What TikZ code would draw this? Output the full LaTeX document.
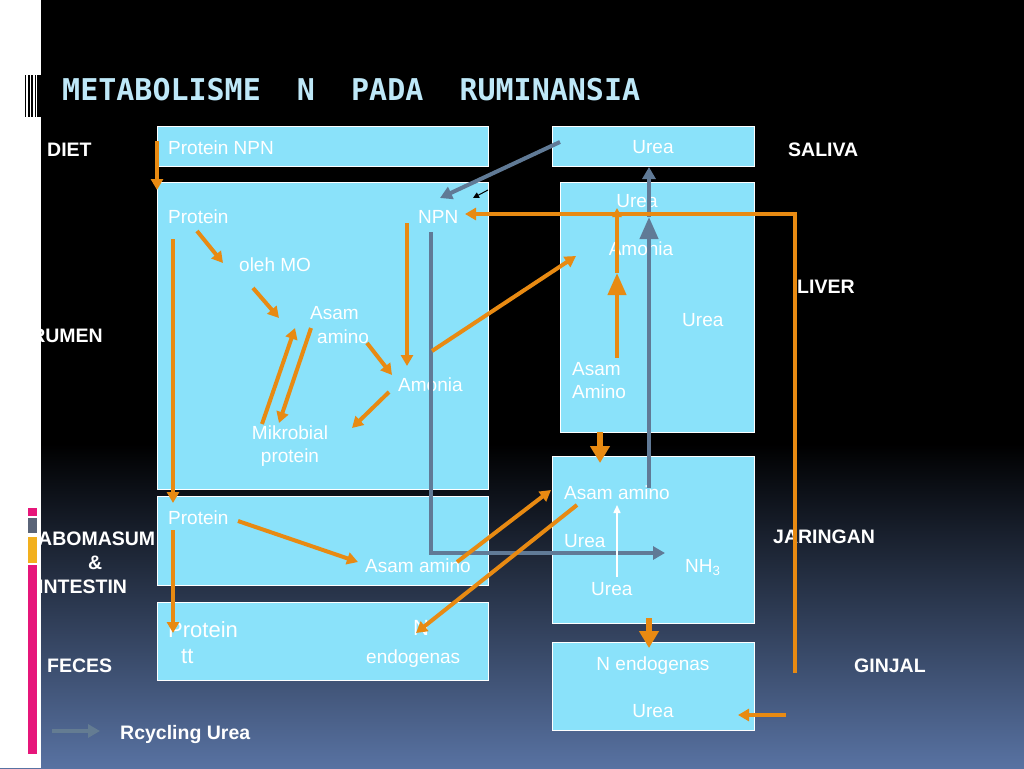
\documentclass[tikz,border=0pt]{standalone}
\usepackage{fontspec}
\setmainfont{Liberation Sans}
\newfontfamily\titlefont{DejaVu Sans Mono}
\usetikzlibrary{arrows.meta}

\definecolor{boxcyan}{RGB}{138,226,250}
\definecolor{arrorange}{RGB}{232,138,18}
\definecolor{recgray}{RGB}{96,122,150}
\definecolor{leggray}{RGB}{100,124,146}
\definecolor{titleblue}{RGB}{190,232,248}
\definecolor{bgblue}{RGB}{88,114,162}
\definecolor{barpink}{RGB}{230,22,122}
\definecolor{bargray}{RGB}{90,100,120}
\definecolor{baryellow}{RGB}{242,176,30}

\tikzset{
	box/.style={draw=white, line width=0.8pt, fill=boxcyan, anchor=north west, inner sep=0pt},
	txt/.style={text=white, anchor=base west, inner sep=0pt, font=\fontsize{19}{23}\selectfont},
	ctxt/.style={txt, anchor=base},
	bigtxt/.style={txt, font=\fontsize{22}{26}\selectfont},
	side/.style={text=white, anchor=base west, inner sep=0pt, font=\bfseries\fontsize{19.5}{23}\selectfont},
	flow/.style={draw=arrorange, line width=4pt, -{Triangle[length=11pt,width=12pt]}},
	bigflow/.style={draw=arrorange, line width=6.5pt, -{Triangle[length=17pt,width=19pt]}},
	recycle/.style={draw=recgray, line width=4pt, -{Triangle[length=12pt,width=13pt]}},
}

\begin{document}
\begin{tikzpicture}[x=1pt, y=-1pt]
	\useasboundingbox (0,0) rectangle (1024,768);
	% background
	\fill[black] (0,0) rectangle (1024,445);
	\shade[top color=black, bottom color=bgblue] (0,444) rectangle (1024,768);

	\node[anchor=base west, inner sep=0pt, text=titleblue, font=\titlefont\bfseries\fontsize{30}{36}\selectfont] (title) at (62,100.5) {METABOLISME\ \ N\ \ PADA\ \ RUMINANSIA};

	% boxes
	\node[box, minimum width=331pt, minimum height=40pt] (diet) at (157,126) {};
	\node[box, minimum width=331pt, minimum height=307pt] (rumen) at (157,182) {};
	\node[box, minimum width=331pt, minimum height=89pt] (abo) at (157,496) {};
	\node[box, minimum width=331pt, minimum height=78pt] (feces) at (157,602) {};
	\node[box, minimum width=202pt, minimum height=40pt] (saliva) at (552,126) {};
	\node[box, minimum width=194pt, minimum height=250pt] (liver) at (560,182) {};
	\node[box, minimum width=202pt, minimum height=167pt] (jar) at (552,456) {};
	\node[box, minimum width=202pt, minimum height=88pt] (ginjal) at (552,642) {};

	% texts in the boxes
	\node[txt] (tDiet) at (168,154) {Protein NPN};
	\node[txt] (tProt) at (168,223) {Protein};
	\node[txt] (tNpn) at (418,223) {NPN};
	\node[txt] (tMo) at (239,271) {oleh MO};
	\node[txt] (tAsam) at (310,319) {Asam};
	\node[txt] (tAmino) at (317,343) {amino};
	\node[txt] (tAmon) at (398,391) {Amonia};
	\node[ctxt] (tMik) at (290,439) {Mikrobial};
	\node[ctxt] (tMikP) at (290,462) {protein};
	\node[txt] (tAboP) at (168,524) {Protein};
	\node[txt] (tAboA) at (365,572) {Asam amino};
	\node[bigtxt] (tFecP) at (168,637) {Protein};
	\node[bigtxt] (tFecT) at (181,663) {tt};
	\node[bigtxt] (tFecN) at (413,635) {N};
	\node[txt] (tFecE) at (366,663) {endogenas};
	\node[ctxt] (tSal) at (653,153) {Urea};
	\node[ctxt] (tLivU) at (637,207) {Urea};
	\node[ctxt] (tLivA) at (641,255) {Amonia};
	\node[txt] (tLivU2) at (682,326) {Urea};
	\node[txt] (tLivAs) at (572,375) {Asam};
	\node[txt] (tLivAm) at (572,398) {Amino};
	\node[txt] (tJarA) at (564,499) {Asam amino};
	\node[txt] (tJarU) at (564,547) {Urea};
	\node[txt] (tJarN) at (685,572) {NH\textsubscript{3}};
	\node[txt] (tJarU2) at (591,595) {Urea};
	\node[ctxt] (tGinN) at (653,670) {N endogenas};
	\node[ctxt] (tGinU) at (653,717) {Urea};

	% side labels
	\node[side] (lDiet) at (47,156) {DIET};
	\node[side, anchor=base east] (lRumen) at (103,342) {RUMEN};
	\node[side] (lAbo) at (38,545) {ABOMASUM};
	\node[side] (lAnd) at (88,569) {\&};
	\node[side] (lInt) at (38,593) {INTESTIN};
	\node[side] (lFeces) at (47,672) {FECES};
	\node[side] (lSaliva) at (788,156) {SALIVA};
	\node[side] (lLiver) at (797,293) {LIVER};
	\node[side] (lJar) at (773,543) {JARINGAN};
	\node[side] (lGinjal) at (854,672) {GINJAL};
	\node[side] (lLegend) at (120,739) {Rcycling Urea};

	% connector ends
	\coordinate (v1) at (560,142);  \coordinate (v2) at (440,198);
	\coordinate (w1) at (431,232);  \coordinate (w2) at (431,553);  \coordinate (w3) at (665,553);
	\coordinate (x1) at (649,488);  \coordinate (x2) at (649,217);  \coordinate (x3) at (649,167);
	\coordinate (t1) at (488,190);  \coordinate (t2) at (473,198);
	\coordinate (h1) at (617,577);  \coordinate (h2) at (617,505);
	\coordinate (L1) at (52,731);   \coordinate (L2) at (100,731);
	\coordinate (d1) at (157,141);  \coordinate (d2) at (157,190);
	\coordinate (r1) at (197,231);  \coordinate (r2) at (223,263);
	\coordinate (r3) at (253,288);  \coordinate (r4) at (279,318);
	\coordinate (r5) at (262,424);  \coordinate (r6) at (295,328);
	\coordinate (r7) at (311,328);  \coordinate (r8) at (279,423);
	\coordinate (r9) at (367,343);  \coordinate (r10) at (392,375);
	\coordinate (r11) at (407,223); \coordinate (r12) at (407,366);
	\coordinate (r13) at (389,392); \coordinate (r14) at (352,428);
	\coordinate (p1) at (173,239);  \coordinate (p2) at (173,503);
	\coordinate (p3) at (173,530);  \coordinate (p4) at (173,633);
	\coordinate (a1) at (238,521);  \coordinate (a2) at (358,562);
	\coordinate (m1) at (432,351);  \coordinate (m2) at (576,256);
	\coordinate (k1) at (795,673);  \coordinate (k2) at (795,214);  \coordinate (k3) at (465,214);
	\coordinate (l1) at (617,358);  \coordinate (l2) at (617,273);  \coordinate (l3) at (617,208);
	\coordinate (j1) at (600,432);  \coordinate (j2) at (600,463);
	\coordinate (g1) at (649,618);  \coordinate (g2) at (649,648);
	\coordinate (u1) at (786,715);  \coordinate (u2) at (738,715);
	\coordinate (s1) at (457,562);  \coordinate (s2) at (551,490);
	\coordinate (n1) at (577,505);  \coordinate (n2) at (416,633);

	% recycling urea
	\draw[recycle] (v1) -- (v2);
	\draw[recycle] (w1) -- (w2) -- (w3);
	\draw[recycle, -{Triangle[length=22pt,width=18pt]}] (x1) -- (x2);
	\draw[recycle] (x2) -- (x3);
	\draw[black, line width=1pt, -{Triangle[length=6pt,width=6pt]}] (t1) -- (t2);
	\draw[white, line width=1.5pt, -{Triangle[length=8pt,width=7pt]}] (h1) -- (h2);

	% protein flow
	\draw[flow] (d1) -- (d2);
	\draw[flow] (r1) -- (r2);
	\draw[flow] (r3) -- (r4);
	\draw[flow] (r5) -- (r6);
	\draw[flow] (r7) -- (r8);
	\draw[flow] (r9) -- (r10);
	\draw[flow] (r11) -- (r12);
	\draw[flow] (r13) -- (r14);
	\draw[flow] (p1) -- (p2);
	\draw[flow] (p3) -- (p4);
	\draw[flow] (a1) -- (a2);
	\draw[flow] (m1) -- (m2);
	\draw[flow] (k1) -- (k2) -- (k3);
	\draw[flow, -{Triangle[length=22pt,width=18pt]}] (l1) -- (l2);
	\draw[flow, -{Triangle[length=9pt,width=9pt]}] (l2) -- (l3);
	\draw[bigflow] (j1) -- (j2);
	\draw[bigflow] (g1) -- (g2);
	\draw[flow] (u1) -- (u2);
	\draw[flow] (s1) -- (s2);
	\draw[flow] (n1) -- (n2);

	% legend
	\draw[leggray, line width=4pt, -{Triangle[length=12pt,width=13pt]}] (L1) -- (L2);

	% left strip
	\fill[white] (0,0) rectangle (41,768);
	\fill[black] (25,75) rectangle (26,117);
	\fill[black] (28.3,75) rectangle (30,117);
	\fill[black] (31.3,75) rectangle (33.3,117);
	\fill[black] (34.7,75) rectangle (36.3,117);
	\fill[black] (37.3,75) rectangle (41,117);
	\fill[barpink] (28,508) rectangle (37,516);
	\fill[bargray] (28,518) rectangle (37,533);
	\fill[baryellow] (28,537) rectangle (37,563);
	\fill[barpink] (28,565) rectangle (37,754);
\end{tikzpicture}
\end{document}
